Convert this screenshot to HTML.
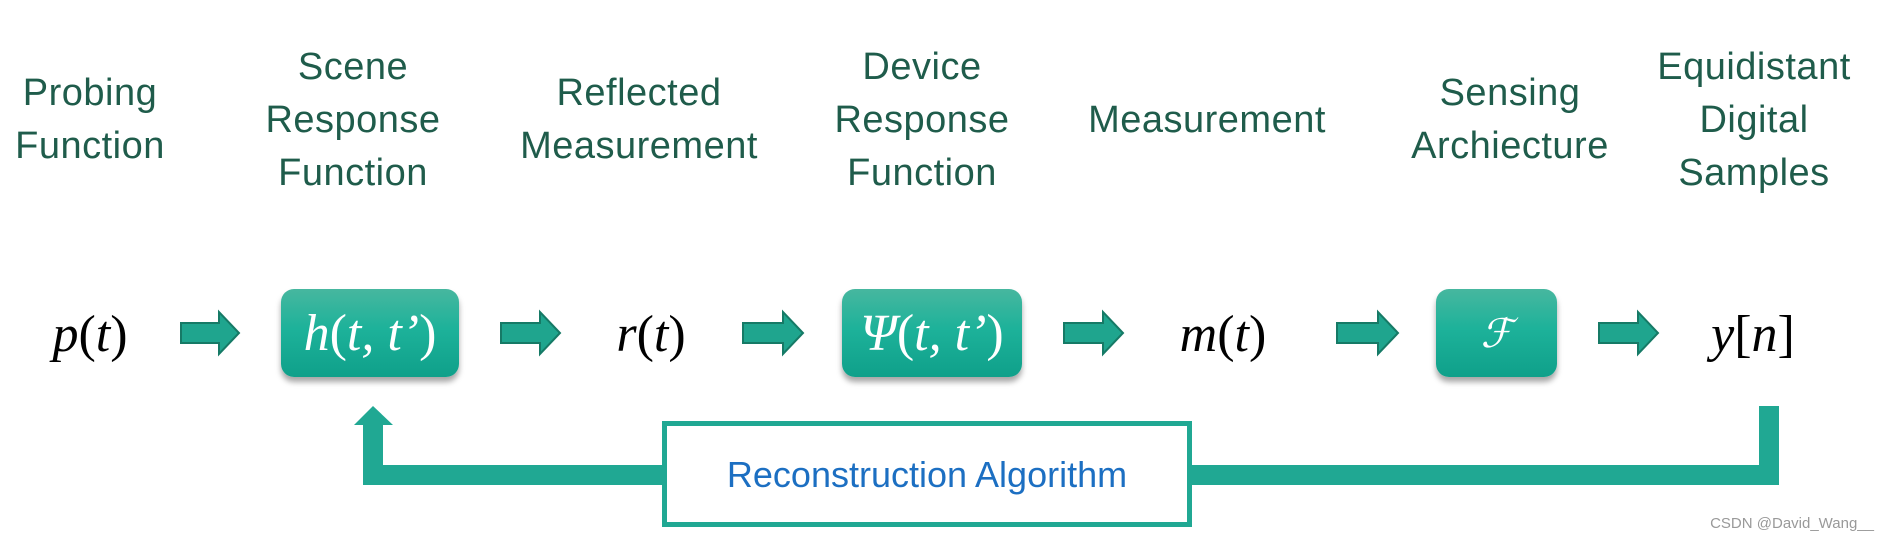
<!DOCTYPE html>
<html><head><meta charset="utf-8"><style>
body{margin:0;width:1890px;height:543px;background:#fff;position:relative;overflow:hidden}
.l{position:absolute;transform:translateX(-50%);text-align:center;color:#1f5c4b;font-family:"Liberation Sans",sans-serif;font-size:38px;line-height:53px;white-space:nowrap;letter-spacing:0.5px}
.m{position:absolute;transform:translateX(-50%);font-family:"Liberation Serif",serif;font-style:italic;font-size:52px;line-height:60px;white-space:nowrap;top:305px}
.m span,.b span{font-style:normal}
.b{position:absolute;top:289px;height:88px;border-radius:13px;background:linear-gradient(#47b79f,#1db29a 45%,#0fa08a);box-shadow:0 5px 6px rgba(0,0,0,0.35);color:#fff;font-family:"Liberation Serif",serif;font-style:italic;font-size:52px;display:flex;align-items:center;justify-content:center}
</style></head><body>
<div class="l" style="left:90px;top:67px">Probing<br>Function</div>
<div class="l" style="left:353px;top:41px">Scene<br>Response<br>Function</div>
<div class="l" style="left:639px;top:67px">Reflected<br>Measurement</div>
<div class="l" style="left:922px;top:41px">Device<br>Response<br>Function</div>
<div class="l" style="left:1207px;top:94px">Measurement</div>
<div class="l" style="left:1510px;top:67px">Sensing<br>Archiecture</div>
<div class="l" style="left:1754px;top:41px">Equidistant<br>Digital<br>Samples</div>

<div class="m" style="left:90px">p<span>(</span>t<span>)</span></div>
<div class="m" style="left:651px">r<span>(</span>t<span>)</span></div>
<div class="m" style="left:1223px">m<span>(</span>t<span>)</span></div>
<div class="m" style="left:1753px">y<span>[</span>n<span>]</span></div>

<div class="b" style="left:281px;width:178px">h<span>(</span>t, t’<span>)</span></div>
<div class="b" style="left:842px;width:180px">Ψ<span>(</span>t, t’<span>)</span></div>
<div class="b" style="left:1436px;width:121px;font-size:40px">ℱ</div>

<svg width="1890" height="543" style="position:absolute;left:0;top:0">
<g fill="#1fa58e" stroke="#167a66" stroke-width="2">
<polygon points="181,323 219,323 219,312 239,333 219,354 219,343 181,343"/>
<polygon points="501,323 540,323 540,312 560,333 540,354 540,343 501,343"/>
<polygon points="743,323 783,323 783,312 803,333 783,354 783,343 743,343"/>
<polygon points="1064,323 1103,323 1103,312 1123,333 1103,354 1103,343 1064,343"/>
<polygon points="1337,323 1378,323 1378,312 1398,333 1378,354 1378,343 1337,343"/>
<polygon points="1599,323 1638,323 1638,312 1658,333 1638,354 1638,343 1599,343"/>
</g>
<g fill="#20a893">
<polygon points="373,406 393,425 383,425 383,465 1759,465 1759,406 1779,406 1779,485 363,485 363,425 354,425"/>
</g>
<rect x="664.5" y="423.5" width="525" height="101" fill="#fff" stroke="#20a893" stroke-width="5"/>
<text x="927" y="487" text-anchor="middle" font-family="Liberation Sans,sans-serif" font-size="36" fill="#1c6fc2">Reconstruction Algorithm</text>
<text x="1874" y="528" text-anchor="end" font-family="Liberation Sans,sans-serif" font-size="15" fill="#999">CSDN @David_Wang__</text>
</svg>
</body></html>
